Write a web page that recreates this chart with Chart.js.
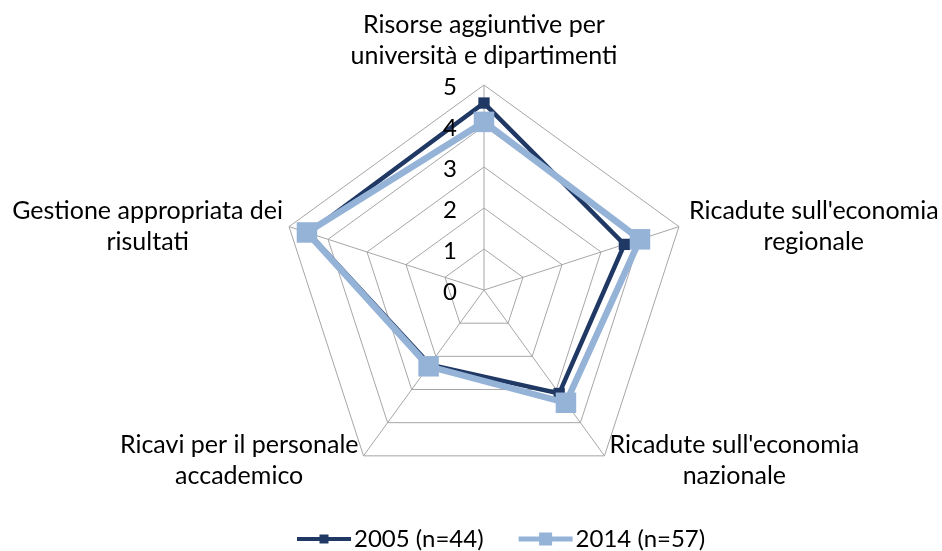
<!DOCTYPE html>
<html>
<head>
<meta charset="utf-8">
<script src="https://cdn.jsdelivr.net/npm/chart.js@4/dist/chart.umd.min.js"></script>
<style>
  html, body { margin: 0; padding: 0; background: #fff; }
  #wrap { width: 942px; height: 551px; }
</style>
</head>
<body>
<div id="wrap"><canvas id="radar" width="942" height="551"></canvas></div>
<script>
// categories (each label split on two lines like the original)
var categories = [
  ["Risorse aggiuntive per", "università e dipartimenti"],
  ["Ricadute sull'economia", "regionale"],
  ["Ricadute sull'economia", "nazionale"],
  ["Ricavi per il personale", "accademico"],
  ["Gestione appropriata dei", "risultati"]
];
var seriesNames = ["2005 (n=44)", "2014 (n=57)"];
var values2005 = [4.56, 3.6, 3.12, 2.25, 4.5];
var values2014 = [4.1, 4.0, 3.4, 2.3, 4.54];
var tickValues = [0, 1, 2, 3, 4, 5];

var FONT = "Lato, 'Open Sans', sans-serif";
var darkBlue = '#1F3864';
var lightBlue = '#95B3D7';

// draws point labels, tick numbers and the legend ourselves
var labelsPlugin = {
  id: 'labelsPlugin',
  afterDraw: function(chart) {
    var ctx = chart.ctx;
    var scale = chart.scales.r;
    ctx.save();
    ctx.fillStyle = '#000';
    ctx.textBaseline = 'middle';

    // tick numbers left of the vertical axis
    ctx.font = '24px ' + FONT;
    ctx.textAlign = 'right';
    for (var t = 0; t < tickValues.length; t++) {
      var p = scale.getPointPositionForValue(0, tickValues[t]);
      ctx.fillText(String(tickValues[t]), p.x - 27, p.y + 2);
    }

    // category labels
    ctx.font = '25px ' + FONT;
    var lineH = 31;
    for (var i = 0; i < categories.length; i++) {
      var lines = categories[i];
      var v = scale.getPointPositionForValue(i, 5);
      var w = 0;
      lines.forEach(function(l) { w = Math.max(w, ctx.measureText(l).width); });
      var cx, cy;
      var dx = v.x - scale.xCenter;
      if (Math.abs(dx) < 2) {
        cx = v.x;
        cy = v.y - 13.5 - lineH * lines.length / 2;
      } else if (dx > 0) {
        cx = v.x + (i == 1 ? 10 : 5) + w / 2;
        cy = v.y + (i == 1 ? 0 : 5);
      } else {
        cx = v.x - (i == 4 ? 6 : 5) - w / 2;
        cy = v.y + (i == 4 ? 0 : 5);
      }
      ctx.textAlign = 'center';
      for (var k = 0; k < lines.length; k++) {
        ctx.fillText(lines[k], cx, cy + (k - (lines.length - 1) / 2) * lineH);
      }
    }

    // legend
    ctx.font = '24px ' + FONT;
    ctx.textAlign = 'left';
    var ly = 539;
    var x = 297;
    chart.data.datasets.forEach(function(ds, j) {
      ctx.strokeStyle = ds.borderColor;
      ctx.lineWidth = j == 0 ? 4 : 5;
      ctx.beginPath();
      ctx.moveTo(x, ly);
      ctx.lineTo(x + 54, ly);
      ctx.stroke();
      var s = j == 0 ? 9 : 13;
      ctx.fillStyle = ds.pointBackgroundColor;
      ctx.fillRect(x + 27 - s / 2, ly - s / 2, s, s);
      ctx.fillStyle = '#000';
      ctx.fillText(ds.label, x + 57, ly);
      x += 57 + ctx.measureText(ds.label).width + 35;
    });
    ctx.restore();
  }
};

new Chart(document.getElementById('radar'), {
  type: 'radar',
  data: {
    labels: categories,
    datasets: [
      {
        label: seriesNames[0],
        data: values2005,
        borderColor: darkBlue,
        backgroundColor: 'transparent',
        borderWidth: 4.5,
        pointStyle: 'rect',
        pointRadius: 8,
        pointBackgroundColor: darkBlue,
        pointBorderWidth: 0,
        order: 1
      },
      {
        label: seriesNames[1],
        data: values2014,
        borderColor: lightBlue,
        backgroundColor: 'transparent',
        borderWidth: 6.5,
        pointStyle: 'rect',
        pointRadius: 14.5,
        pointBackgroundColor: lightBlue,
        pointBorderWidth: 0,
        order: 0
      }
    ]
  },
  options: {
    responsive: false,
    animation: false,
    layout: { padding: { left: 26, right: 0, top: 85, bottom: 55 } },
    elements: { line: { tension: 0 } },
    plugins: {
      legend: { display: false },
      tooltip: { enabled: false }
    },
    scales: {
      r: {
        min: 0,
        max: 5,
        ticks: { stepSize: 1, display: false },
        grid: { color: '#A6A6A6', lineWidth: 1 },
        angleLines: { color: '#A6A6A6', lineWidth: 1 },
        pointLabels: { display: false }
      }
    }
  },
  plugins: [labelsPlugin]
});
</script>
</body>
</html>
